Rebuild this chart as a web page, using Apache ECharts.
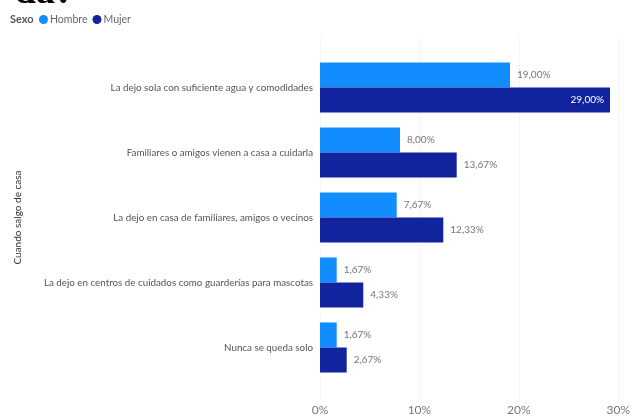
<!DOCTYPE html>
<html>
<head>
<meta charset="utf-8">
<script src="https://cdn.jsdelivr.net/npm/echarts@6/dist/echarts.min.js"></script>
<style>
  html, body { margin: 0; padding: 0; background: #fff; }
  #chart { width: 633px; height: 416px; }
</style>
</head>
<body>
<div id="chart"></div>
<script>
// Answers to "Cuando salgo de casa", split by sex (percent of respondents)
const categories = [
  'La dejo sola con suficiente agua y comodidades',
  'Familiares o amigos vienen a casa a cuidarla',
  'La dejo en casa de familiares, amigos o vecinos',
  'La dejo en centros de cuidados como guarderías para mascotas',
  'Nunca se queda solo'
];
const seriesNames = ['Hombre', 'Mujer'];
const hombre = [19.00, 8.00, 7.67, 1.67, 1.67];
const mujer = [29.00, 13.67, 12.33, 4.33, 2.67];
const xTicks = [0, 10, 20, 30];

const FONT = 'Lato, "Open Sans", sans-serif';
const fmt = v => v.toFixed(2).replace('.', ',') + '%';

const chart = echarts.init(document.getElementById('chart'), null, { renderer: 'canvas' });

const mujerData = mujer.map((v, i) => {
  // the longest bar carries its label inside, in white
  if (v === Math.max(...mujer)) {
    return { value: v, label: { position: 'insideRight', color: '#ffffff', distance: 6 } };
  }
  return v;
});

chart.setOption({
  animation: false,
  graphic: [
    {
      type: 'text',
      style: {
        x: 74, y: -7,
        text: 'da?',
        font: 'bold 38px "Liberation Serif", serif',
        fill: '#000',
        align: 'right',
        verticalAlign: 'middle'
      }
    },
    {
      type: 'text',
      style: {
        x: 10, y: 19,
        text: 'Sexo',
        font: 'bold 11px ' + FONT,
        fill: '#555',
        verticalAlign: 'middle'
      }
    }
  ],
  legend: {
    data: seriesNames,
    left: 39,
    top: 14,
    icon: 'circle',
    itemWidth: 9,
    itemHeight: 9,
    itemGap: 5,
    padding: 0,
    textStyle: { fontFamily: FONT, fontSize: 10.5, color: '#666', padding: [0, 0, 0, -3] }
  },
  grid: [
    { left: 320, right: 13, top: 55, bottom: 36, containLabel: false },
    { left: 320, right: 13, top: 37, bottom: 18, containLabel: false }
  ],
  xAxis: [
    {
      gridIndex: 0, type: 'value', min: 0, max: 30, interval: 10,
      axisLine: { show: false }, axisTick: { show: false },
      axisLabel: { show: false }, splitLine: { show: false }
    },
    {
      gridIndex: 1, type: 'value', min: xTicks[0], max: xTicks[xTicks.length - 1], interval: 10,
      axisLine: { show: false }, axisTick: { show: false },
      axisLabel: {
        fontFamily: FONT, fontSize: 12, color: '#777', margin: 6,
        formatter: v => v + '%'
      },
      splitLine: { show: true, lineStyle: { color: '#dedede', type: [1, 3], width: 1 } }
    }
  ],
  yAxis: [
    {
      gridIndex: 0, type: 'category', data: categories, inverse: true,
      axisLine: { show: false }, axisTick: { show: false },
      axisLabel: { fontFamily: FONT, fontSize: 9.8, color: '#555', margin: 7 },
      name: 'Cuando salgo de casa',
      nameLocation: 'middle',
      nameGap: 297,
      nameRotate: 90,
      nameMoveOverlap: false,
      nameTextStyle: { fontFamily: FONT, fontSize: 10, color: '#333' }
    },
    {
      gridIndex: 1, type: 'category', data: categories, show: false
    }
  ],
  series: [
    {
      name: seriesNames[0], type: 'bar', data: hombre,
      xAxisIndex: 0, yAxisIndex: 0,
      barGap: '0%', barCategoryGap: '23%',
      itemStyle: { color: '#118DFF' },
      label: { show: true, position: 'right', distance: 7, fontFamily: FONT, fontSize: 10, color: '#777', formatter: p => fmt(p.value) }
    },
    {
      name: seriesNames[1], type: 'bar', data: mujerData,
      xAxisIndex: 0, yAxisIndex: 0,
      barGap: '0%', barCategoryGap: '23%',
      itemStyle: { color: '#12239E' },
      label: { show: true, position: 'right', distance: 7, fontFamily: FONT, fontSize: 10, color: '#777', formatter: p => fmt(p.value) }
    }
  ]
});
</script>
</body>
</html>
